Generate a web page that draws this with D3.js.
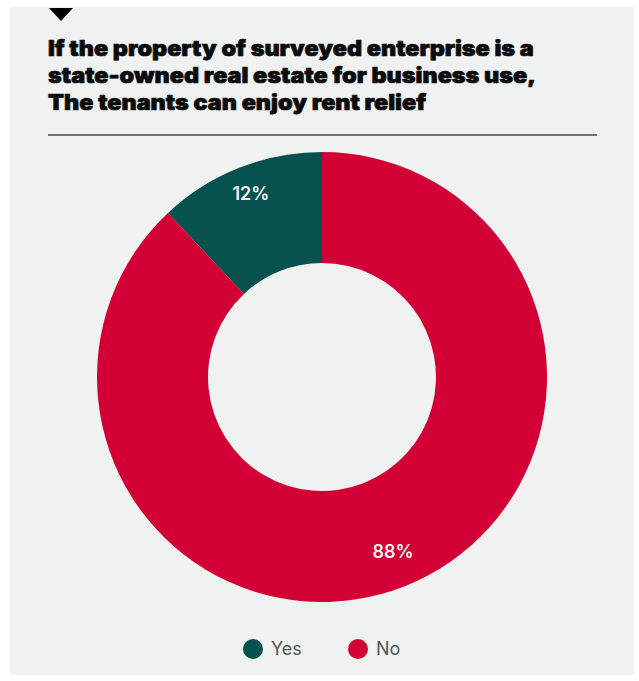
<!DOCTYPE html>
<html>
<head>
<meta charset="utf-8">
<script src="https://cdn.jsdelivr.net/npm/d3@7"></script>
<style>
  html, body { margin: 0; padding: 0; background: #ffffff; }
  svg { display: block; }
</style>
</head>
<body>
<div id="chart"></div>
<script>
// Survey answers
const categories = ["Yes", "No"];
const values = [12, 88];
const colors = ["#07514f", "#d20034"];
const titleLines = [
  "If the property of surveyed enterprise is a",
  "state-owned real estate for business use,",
  "The tenants can enjoy rent relief"
];

const W = 639, H = 681;
const svg = d3.select("#chart").append("svg")
  .attr("width", W).attr("height", H);

// Panel background
svg.append("rect")
  .attr("x", 10).attr("y", 7)
  .attr("width", 624).attr("height", 668)
  .attr("fill", "#eff2f1");

// Marker triangle above the title
svg.append("path")
  .attr("d", "M49,8 L73,8 L61,21 Z")
  .attr("fill", "#000");

// Title, stretched slightly so the first line spans its full column width
const titleX = 48, titleWidth = 486;
const titleG = svg.append("g");
const title = titleG.append("text")
  .attr("font-family", "Inter, 'Noto Sans', sans-serif")
  .attr("font-weight", 900)
  .attr("font-size", 21.5)
  .attr("fill", "#0b0b0b")
  .attr("stroke", "#0b0b0b")
  .attr("stroke-width", 0.7)
  .attr("stroke-linejoin", "round");
title.selectAll("tspan").data(titleLines).join("tspan")
  .attr("x", 0)
  .attr("y", (d, i) => 56 + i * 27)
  .text(d => d);
const firstLen = title.select("tspan").node().getComputedTextLength();
const sx = titleWidth / firstLen;
titleG.attr("transform", `translate(${titleX},0) scale(${sx},1)`);

// Rule under the title
svg.append("line")
  .attr("x1", 48).attr("x2", 597)
  .attr("y1", 135).attr("y2", 135)
  .attr("stroke", "#444").attr("stroke-width", 1.5);

// Donut
const cx = 322, cy = 377, rOuter = 225, rInner = 114;
const color = d3.scaleOrdinal().domain(categories).range(colors);
const total = d3.sum(values);
const data = categories.map((c, i) => ({ cat: c, value: values[i] }));
const startA = -(values[0] / total) * 2 * Math.PI;
const pie = d3.pie().sort(null).value(d => d.value)
  .startAngle(startA).endAngle(startA + 2 * Math.PI);
const arc = d3.arc().innerRadius(rInner).outerRadius(rOuter);
const labelArc = d3.arc().innerRadius(193).outerRadius(193);

const g = svg.append("g").attr("transform", `translate(${cx},${cy})`);
const arcs = pie(data);
g.selectAll("path.slice").data(arcs).join("path")
  .attr("class", "slice")
  .attr("d", arc)
  .attr("fill", d => color(d.data.cat));

g.selectAll("text.lbl").data(arcs).join("text")
  .attr("class", "lbl")
  .attr("transform", d => `translate(${labelArc.centroid(d)})`)
  .attr("text-anchor", "middle")
  .attr("dy", 2)
  .attr("font-family", "Inter, 'Noto Sans', sans-serif")
  .attr("font-weight", 600)
  .attr("font-size", 18)
  .attr("fill", "#f2f2f2")
  .text(d => d.data.value + "%");

// Legend
const legendX = [253, 358];
const lg = svg.append("g");
const items = lg.selectAll("g").data(categories).join("g")
  .attr("transform", (d, i) => `translate(${legendX[i]},649)`);
items.append("circle").attr("r", 10).attr("fill", d => color(d));
items.append("text")
  .attr("x", 18).attr("dy", "0.36em")
  .attr("font-family", "Inter, 'Noto Sans', sans-serif")
  .attr("font-size", 18)
  .attr("fill", "#555")
  .text(d => d);
</script>
</body>
</html>
